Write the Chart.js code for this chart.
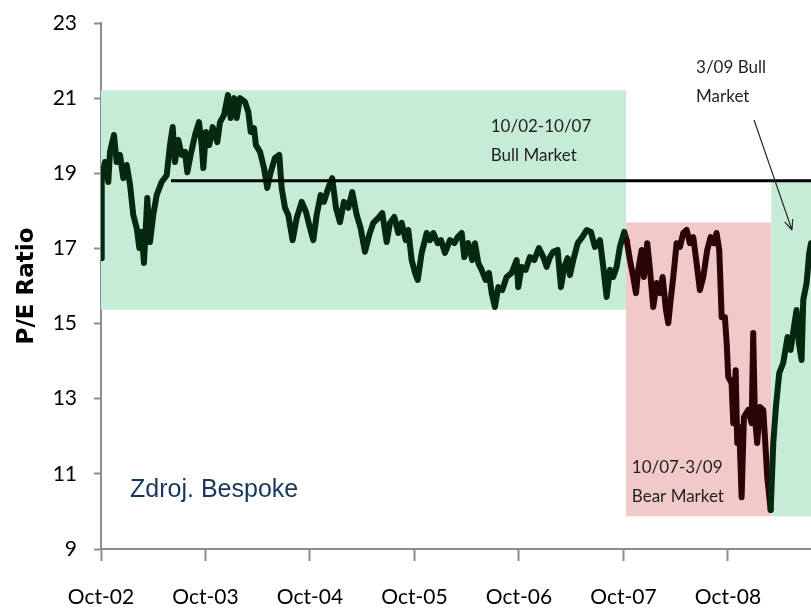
<!DOCTYPE html>
<html>
<head>
<meta charset="utf-8">
<script src="https://cdn.jsdelivr.net/npm/chart.js@4.4.1/dist/chart.umd.min.js"></script>
<style>
  html, body { margin: 0; padding: 0; background: #fff; }
  #chart { display: block; }
</style>
</head>
<body>
<canvas id="chart" width="811" height="610"></canvas>
<script>
// S&P 500 P/E - fechas en años decimales (Oct-02 = 2002.75)
const peDates = [
  2002.750, 2002.757, 2002.788, 2002.820, 2002.836, 2002.874, 2002.900, 2002.932, 2002.963, 2002.996,
  2003.028, 2003.059, 2003.092, 2003.117, 2003.139, 2003.161, 2003.193, 2003.219, 2003.250, 2003.283,
  2003.331, 2003.379, 2003.410, 2003.436, 2003.458, 2003.490, 2003.522, 2003.554, 2003.576, 2003.608,
  2003.650, 2003.688, 2003.714, 2003.729, 2003.755, 2003.786, 2003.819, 2003.863, 2003.889, 2003.927,
  2003.965, 2003.991, 2004.023, 2004.049, 2004.080, 2004.128, 2004.160, 2004.183, 2004.214, 2004.233,
  2004.272, 2004.310, 2004.341, 2004.374, 2004.415, 2004.456, 2004.479, 2004.511, 2004.542, 2004.584,
  2004.623, 2004.671, 2004.712, 2004.743, 2004.782, 2004.814, 2004.852, 2004.884, 2004.925, 2004.963,
  2004.999, 2005.037, 2005.075, 2005.117, 2005.155, 2005.197, 2005.235, 2005.276, 2005.317, 2005.356,
  2005.404, 2005.442, 2005.484, 2005.516, 2005.557, 2005.595, 2005.628, 2005.666, 2005.691, 2005.723,
  2005.755, 2005.781, 2005.819, 2005.867, 2005.898, 2005.930, 2005.972, 2006.004, 2006.042, 2006.090,
  2006.131, 2006.163, 2006.202, 2006.227, 2006.265, 2006.303, 2006.329, 2006.361, 2006.393, 2006.431,
  2006.463, 2006.489, 2006.520, 2006.552, 2006.590, 2006.632, 2006.680, 2006.728, 2006.743, 2006.776,
  2006.814, 2006.855, 2006.896, 2006.941, 2006.983, 2007.015, 2007.047, 2007.078, 2007.120, 2007.152,
  2007.184, 2007.216, 2007.238, 2007.270, 2007.312, 2007.356, 2007.398, 2007.439, 2007.477, 2007.525,
  2007.557, 2007.589, 2007.621, 2007.652, 2007.685, 2007.716, 2007.758, 2007.781, 2007.812, 2007.844,
  2007.870, 2007.892, 2007.924, 2007.946, 2007.978, 2008.004, 2008.035, 2008.068, 2008.099, 2008.125,
  2008.157, 2008.179, 2008.202, 2008.227, 2008.259, 2008.291, 2008.322, 2008.355, 2008.386, 2008.418,
  2008.450, 2008.482, 2008.514, 2008.552, 2008.584, 2008.616, 2008.641, 2008.667, 2008.690, 2008.721,
  2008.738, 2008.753, 2008.785, 2008.801, 2008.824, 2008.839, 2008.858, 2008.881, 2008.903, 2008.944,
  2008.977, 2008.992, 2009.008, 2009.030, 2009.056, 2009.088, 2009.104, 2009.126, 2009.159, 2009.184,
  2009.209, 2009.241, 2009.279, 2009.321, 2009.350, 2009.382, 2009.407, 2009.429, 2009.455, 2009.471,
  2009.503, 2009.528, 2009.545
];
const peValues = [
  16.74, 18.87, 19.30, 18.77, 19.57, 20.02, 19.30, 19.49, 18.87, 19.22,
  18.69, 17.89, 17.54, 17.01, 17.44, 16.61, 18.34, 17.17, 17.89, 18.42,
  18.77, 18.95, 19.75, 20.23, 19.30, 19.89, 19.49, 19.57, 19.03, 19.49,
  20.02, 20.36, 19.75, 19.14, 20.10, 19.75, 20.23, 19.83, 20.36, 20.55,
  21.08, 20.47, 21.00, 20.47, 21.00, 20.90, 20.63, 20.10, 20.20, 19.75,
  19.57, 19.14, 18.61, 19.03, 19.41, 19.49, 18.61, 18.08, 17.89, 17.22,
  17.81, 18.24, 17.97, 17.62, 17.22, 17.89, 18.42, 18.24, 18.61, 18.87,
  18.08, 17.70, 18.24, 18.08, 18.50, 17.89, 17.54, 16.91, 17.36, 17.68,
  17.81, 17.94, 17.17, 17.68, 17.84, 17.41, 17.68, 17.22, 17.49, 16.69,
  16.35, 16.16, 16.88, 17.41, 17.22, 17.41, 17.14, 17.22, 16.88, 17.22,
  17.14, 17.30, 17.41, 16.77, 17.14, 16.69, 17.14, 16.61, 16.43, 16.16,
  16.35, 15.81, 15.44, 15.97, 15.89, 16.24, 16.35, 16.69, 15.97, 16.51,
  16.43, 16.77, 16.69, 17.01, 16.77, 16.51, 16.77, 16.91, 16.96, 15.97,
  16.51, 16.74, 16.29, 16.69, 17.14, 17.30, 17.49, 17.44, 17.04, 17.22,
  16.51, 15.71, 16.43, 16.24, 16.51, 17.04, 17.44, 17.22, 16.69, 16.24,
  15.81, 16.43, 16.96, 16.24, 17.14, 16.43, 15.44, 16.08, 15.81, 16.24,
  15.36, 15.01, 15.63, 16.24, 17.14, 17.04, 17.41, 17.49, 17.14, 17.30,
  16.61, 15.89, 16.24, 16.96, 17.30, 17.14, 17.41, 16.96, 15.17, 15.17,
  14.48, 13.58, 13.42, 12.35, 13.76, 11.82, 12.25, 10.38, 12.51, 12.70,
  12.35, 14.75, 12.51, 11.82, 12.78, 12.70, 11.98, 10.92, 10.04, 11.82,
  12.78, 13.68, 13.95, 14.64, 14.30, 14.91, 15.36, 14.48, 14.03, 15.63,
  16.08, 16.88, 17.14
];

// promedio de largo plazo
const avgPE = 18.8;
const avgFrom = 2003.42;

// ejes
const xMin = 2002.75;
const xMax = 2009.545;
const xTickValues = [2002.75, 2003.75, 2004.75, 2005.75, 2006.75, 2007.75, 2008.75];
const yTickValues = [9, 11, 13, 15, 17, 19, 21, 23];

// fases del mercado (desde, hasta, mín, máx)
const phaseFrom = [2002.75, 2007.775, 2009.165];
const phaseTo = [2007.775, 2009.165, xMax];
const phaseLow = [15.37, 9.87, 9.87];
const phaseHigh = [21.21, 17.69, 18.77];
const phaseColors = ['#c4ecd6', '#f2c9c9', '#c4ecd6'];

const bearFrom = 2007.77;
const bearTo = 2009.15;

// textos sobre el gráfico
const notes = [
  { x: 2006.48, y: 20.10, lines: ['10/02-10/07', 'Bull Market'] },
  { x: 2008.445, y: 21.67, lines: ['3/09 Bull', 'Market'] },
  { x: 2007.83, y: 11.02, lines: ['10/07-3/09', 'Bear Market'] }
];

const phasesPlugin = {
  id: 'phases',
  beforeDatasetsDraw(chart) {
    const { ctx, scales: { x, y } } = chart;
    ctx.save();
    for (let i = 0; i < phaseFrom.length; i++) {
      const x0 = x.getPixelForValue(phaseFrom[i]);
      const x1 = x.getPixelForValue(phaseTo[i]);
      const y0 = y.getPixelForValue(phaseHigh[i]);
      const y1 = y.getPixelForValue(phaseLow[i]);
      ctx.fillStyle = phaseColors[i];
      ctx.fillRect(x0, y0, x1 - x0, y1 - y0);
    }
    ctx.restore();
  },
  afterDatasetsDraw(chart) {
    const { ctx, scales: { x, y } } = chart;
    ctx.save();
    ctx.font = '17px Lato';
    ctx.fillStyle = '#231f20';
    ctx.textBaseline = 'alphabetic';
    notes.forEach(n => {
      const px = x.getPixelForValue(n.x);
      const py = y.getPixelForValue(n.y);
      n.lines.forEach((t, i) => ctx.fillText(t, px, py + i * 29));
    });

    // flecha hacia el inicio del mercado alcista
    const ax0 = x.getPixelForValue(2009.0), ay0 = y.getPixelForValue(20.42);
    const ax1 = x.getPixelForValue(2009.363), ay1 = y.getPixelForValue(17.49);
    const ang = Math.atan2(ay1 - ay0, ax1 - ax0);
    ctx.strokeStyle = '#2b2b2b';
    ctx.lineWidth = 1.2;
    ctx.beginPath();
    ctx.moveTo(ax0, ay0);
    ctx.lineTo(ax1, ay1);
    ctx.moveTo(ax1, ay1);
    ctx.lineTo(ax1 - 11 * Math.cos(ang - 0.4), ay1 - 11 * Math.sin(ang - 0.4));
    ctx.moveTo(ax1, ay1);
    ctx.lineTo(ax1 - 11 * Math.cos(ang + 0.4), ay1 - 11 * Math.sin(ang + 0.4));
    ctx.stroke();

    // fuente
    ctx.font = '25px "Liberation Sans", Arial, sans-serif';
    ctx.fillStyle = '#17375e';
    ctx.fillText('Zdroj. Bespoke', x.getPixelForValue(2003.028), y.getPixelForValue(10.38));
    ctx.restore();
  }
};

const ctx = document.getElementById('chart').getContext('2d');
new Chart(ctx, {
  type: 'line',
  data: {
    datasets: [{
      label: 'P/E',
      data: peDates.map((d, i) => ({ x: d, y: peValues[i] })),
      borderWidth: 6,
      borderJoinStyle: 'round',
      borderCapStyle: 'round',
      pointRadius: 0,
      tension: 0,
      borderColor: '#06280f',
      segment: {
        borderColor: c => (c.p0.parsed.x >= bearFrom && c.p0.parsed.x < bearTo) ? '#2a0505' : '#06280f'
      },
      order: 2
    }, {
      label: 'Average',
      data: [{ x: avgFrom, y: avgPE }, { x: xMax, y: avgPE }],
      borderColor: '#000',
      borderWidth: 3,
      pointRadius: 0,
      order: 1
    }]
  },
  options: {
    responsive: false,
    animation: false,
    devicePixelRatio: 1,
    layout: { padding: { top: 23, right: 0, bottom: 0, left: 0 } },
    plugins: {
      legend: { display: false },
      tooltip: { enabled: false }
    },
    scales: {
      x: {
        type: 'linear',
        min: xMin,
        max: xMax,
        afterBuildTicks: s => { s.ticks = xTickValues.map(v => ({ value: v })); },
        afterFit: s => { s.height = 61; s.paddingLeft = 0; s.paddingRight = 0; },
        ticks: {
          autoSkip: false,
          maxRotation: 0,
          padding: 24,
          color: '#000',
          font: { family: 'Lato', size: 21 },
          callback: v => 'Oct-' + String(Math.round(v - 0.75)).slice(2)
        },
        grid: {
          drawOnChartArea: false,
          drawTicks: true,
          tickLength: 12,
          tickColor: '#8c8c8c',
          tickWidth: 2
        },
        border: { color: '#8c8c8c', width: 2 }
      },
      y: {
        min: 9,
        max: 23,
        afterBuildTicks: s => { s.ticks = yTickValues.map(v => ({ value: v })); },
        afterFit: s => { s.width = 101; s.paddingTop = 0; s.paddingBottom = 0; },
        ticks: {
          padding: 17,
          color: '#000',
          font: { family: 'Lato', size: 21 }
        },
        grid: {
          drawOnChartArea: false,
          drawTicks: true,
          tickLength: 7,
          tickColor: '#8c8c8c',
          tickWidth: 2
        },
        border: { color: '#8c8c8c', width: 2 },
        title: {
          display: true,
          text: 'P/E Ratio',
          color: '#000',
          font: { family: 'DejaVu Sans', size: 23, weight: 'bold' },
          padding: { top: 13, bottom: 0 }
        }
      }
    }
  },
  plugins: [phasesPlugin]
});
</script>
</body>
</html>
